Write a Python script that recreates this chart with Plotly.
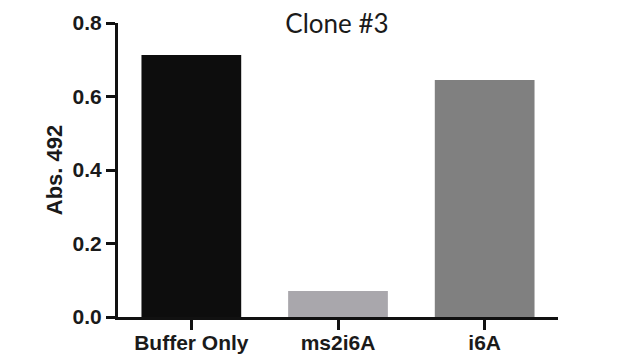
import plotly.graph_objects as go

categories = ["Buffer Only", "ms2i6A", "i6A"]
values = [0.713, 0.071, 0.645]
colors = ["#0d0d0d", "#a9a7ac", "#808080"]
y_ticks = [0.0, 0.2, 0.4, 0.6, 0.8]
y_tick_labels = ["0.0", "0.2", "0.4", "0.6", "0.8"]

# the page body has an 8px margin, so the figure is drawn 8px right and down
W, H = 632, 353

fig = go.Figure()
fig.add_trace(go.Bar(
    x=categories, y=values, marker=dict(color=colors, line=dict(width=0)),
    width=0.68,
))

fig.update_layout(
    width=W, height=H,
    margin=dict(l=110, r=82, t=15, b=44),
    paper_bgcolor="white", plot_bgcolor="white",
    showlegend=False,
    title=dict(text="Clone #3", x=329/W, xanchor="center", y=1 - 16/H, yanchor="middle",
               font=dict(family="Lato", size=26, color="#1a1a1a")),
    font=dict(family="Liberation Sans", color="#1a1a1a"),
)
fig.update_xaxes(
    range=[-0.5, 2.5], showline=True, linewidth=3, linecolor="#111111",
    ticks="outside", ticklen=10, tickwidth=3, tickcolor="#111111",
    ticklabelstandoff=-5,
    tickfont=dict(family="Liberation Sans", size=21, color="#1a1a1a", weight="bold"),
    showgrid=False, zeroline=False, automargin=False,
)
fig.update_yaxes(
    range=[0, 0.8], tickvals=y_ticks, ticktext=y_tick_labels,
    showline=True, linewidth=3, linecolor="#111111",
    ticks="outside", ticklen=9, tickwidth=3, tickcolor="#111111",
    tickfont=dict(family="Liberation Sans", size=21, color="#1a1a1a", weight="bold"),
    title=dict(text="Abs. 492", standoff=4,
               font=dict(family="Liberation Sans", size=22, color="#1a1a1a", weight="bold")),
    showgrid=False, zeroline=False, automargin=False,
)

fig.write_html("out.html")
